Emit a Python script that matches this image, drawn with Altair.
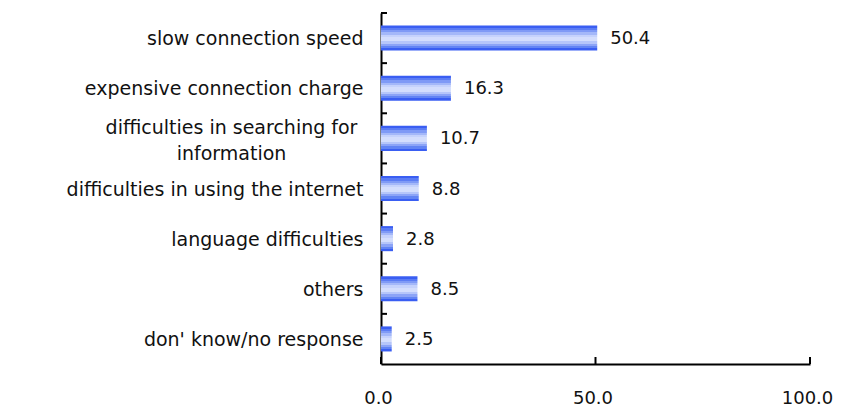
import altair as alt
import pandas as pd

categories = [
    "slow connection speed",
    "expensive connection charge",
    "difficulties in searching for information",
    "difficulties in using the internet",
    "language difficulties",
    "others",
    "don' know/no response",
]
values = [50.4, 16.3, 10.7, 8.8, 2.8, 8.5, 2.5]
x_ticks = [0, 50, 100]

df = pd.DataFrame({"cat": categories, "val": values})
tick_df = pd.DataFrame({"t": x_ticks})

FONT = "DejaVu Sans"
FS = 19
NFS = 18
LONG = "difficulties in searching for information"
is_long = f"datum.value == '{LONG}'"

stripes = ["#3a5ef2", "#5b7cf4", "#7f9af6", "#a4b8f9", "#c5d2fc", "#d4defd",
           "#d4defd", "#b6c6fa", "#8ca4f7", "#6284f4", "#3a5ef2"]
stops = []
n = len(stripes)
for i, c in enumerate(stripes):
    stops.append(alt.GradientStop(color=c, offset=i / n))
    stops.append(alt.GradientStop(color=c, offset=(i + 1) / n))
grad = alt.Gradient(gradient="linear", stops=stops, x1=0, x2=0, y1=0, y2=1)

yscale = alt.Scale(domain=categories, paddingInner=0, paddingOuter=0)
xscale = alt.Scale(domain=[0, 100], nice=False)

bars = alt.Chart(df).mark_bar(color=grad, height={"band": 0.5}).encode(
    y=alt.Y("cat:N", sort=categories, scale=yscale, title=None,
            axis=alt.Axis(
                labelFont=FONT, labelFontSize=FS, labelColor="#111",
                ticks=False, domainColor="black", domainWidth=2,
                labelPadding={"condition": {"test": is_long, "value": 150}, "value": 18},
                labelAlign={"condition": {"test": is_long, "value": "center"}, "value": "right"},
                labelOffset={"condition": {"test": is_long, "value": -10}, "value": 1},
                labelLineHeight=26,
                labelLimit=400,
                labelExpr=f"datum.label == '{LONG}' ? ['difficulties in searching for', 'information'] : datum.label",
            )),
    x=alt.X("val:Q", scale=xscale, title=None,
            axis=alt.Axis(values=x_ticks, format=".1f", labelFont=FONT, labelFontSize=NFS,
                          labelColor="#111", ticks=False, grid=False, domainColor="black",
                          domainWidth=2, labelPadding=25, labelFlush=False, labelOffset=-3)),
)

labels = alt.Chart(df).mark_text(align="left", baseline="middle", dx=13, dy=1, font=FONT,
                                 fontSize=NFS, color="#111").encode(
    y=alt.Y("cat:N", sort=categories, scale=yscale),
    x=alt.X("val:Q", scale=xscale),
    text=alt.Text("val:Q", format=".1f"),
)

ytick = alt.Chart(df).mark_rule(color="black", strokeWidth=2).encode(
    y=alt.Y("cat:N", sort=categories, scale=yscale, bandPosition=0),
    x=alt.value(0), x2=alt.value(6),
)

xtick = alt.Chart(tick_df).mark_rule(color="black", strokeWidth=2).encode(
    x=alt.X("t:Q", scale=xscale),
    y=alt.value(351), y2=alt.value(344),
)

chart = alt.layer(bars, labels, ytick, xtick).properties(
    width=429, height=351,
    autosize=alt.AutoSizeParams(type="none"),
    padding={"left": 373, "top": 5, "right": 23, "bottom": 44},
).configure(background="white").configure_view(stroke=None)

chart.save("out.html", embed_options={"renderer": "svg", "actions": False})
